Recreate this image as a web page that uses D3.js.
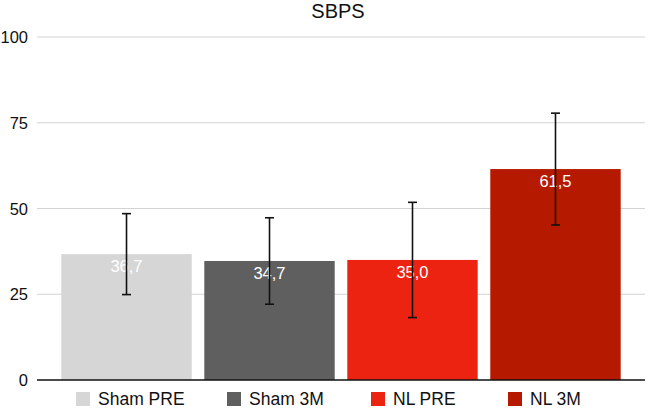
<!DOCTYPE html>
<html>
<head>
<meta charset="utf-8">
<script src="https://cdn.jsdelivr.net/npm/d3@7"></script>
<style>
  html, body { margin: 0; padding: 0; background: #fff; }
  svg { display: block; font-family: "Liberation Sans", Arial, Helvetica, sans-serif; }
</style>
</head>
<body>
<svg id="chart" width="650" height="408"></svg>
<script>
const title = "SBPS";
const categories = ["Sham PRE", "Sham 3M", "NL PRE", "NL 3M"];
const values = [36.7, 34.7, 35.0, 61.5];
const errors = [11.8, 12.6, 16.8, 16.3];
const valueLabels = ["36,7", "34,7", "35,0", "61,5"];
const colors = ["#d6d6d6", "#5f5f5f", "#ec2310", "#b51a00"];
const yTicks = [0, 25, 50, 75, 100];

(function () {
const svg = d3.select("#chart");
const mLeft = 37, mRight = 645, mTop = 37, mBottom = 380;

const x = d3.scaleBand().domain(categories).range([mLeft, mRight])
  .paddingInner(0.088).paddingOuter(0.17);
const y = d3.scaleLinear().domain([0, 100]).range([mBottom, mTop]);

// gridlines
svg.append("g").selectAll("line").data(yTicks.filter(t => t > 0)).join("line")
  .attr("x1", mLeft).attr("x2", mRight)
  .attr("y1", d => y(d)).attr("y2", d => y(d))
  .attr("stroke", "#d3d3d3").attr("stroke-width", 1.2);

// y tick labels
svg.append("g").selectAll("text").data(yTicks).join("text")
  .attr("x", 28).attr("y", d => y(d) + 6)
  .attr("text-anchor", "end").attr("font-size", 16.5).attr("fill", "#111")
  .text(d => d);

// bars
svg.append("g").selectAll("rect").data(values).join("rect")
  .attr("x", (d, i) => x(categories[i]))
  .attr("width", x.bandwidth())
  .attr("y", d => y(d))
  .attr("height", d => y(0) - y(d))
  .attr("fill", (d, i) => colors[i]);

// value labels
svg.append("g").selectAll("text").data(values).join("text")
  .attr("x", (d, i) => x(categories[i]) + x.bandwidth() / 2)
  .attr("y", d => y(d) + 18)
  .attr("text-anchor", "middle").attr("font-size", 16.5).attr("fill", "#fff")
  .text((d, i) => valueLabels[i]);

// error bars
const eg = svg.append("g").attr("stroke", "#111").attr("stroke-width", 1.6);
values.forEach((v, i) => {
  const cx = x(categories[i]) + x.bandwidth() / 2;
  const hi = y(v + errors[i]), lo = y(v - errors[i]);
  eg.append("line").attr("x1", cx).attr("x2", cx).attr("y1", hi).attr("y2", lo);
  eg.append("line").attr("x1", cx - 4.5).attr("x2", cx + 4.5).attr("y1", hi).attr("y2", hi);
  eg.append("line").attr("x1", cx - 4.5).attr("x2", cx + 4.5).attr("y1", lo).attr("y2", lo);
});

// x axis line
svg.append("line").attr("x1", mLeft).attr("x2", mRight)
  .attr("y1", y(0)).attr("y2", y(0))
  .attr("stroke", "#111").attr("stroke-width", 1.6);

// title
svg.append("text").attr("x", 338).attr("y", 17.5)
  .attr("text-anchor", "middle").attr("font-size", 20).attr("fill", "#111")
  .text(title);

// legend
const legendX = [76, 227, 371, 508];
const lg = svg.append("g");
categories.forEach((c, i) => {
  lg.append("rect").attr("x", legendX[i]).attr("y", 392).attr("width", 14).attr("height", 14)
    .attr("fill", colors[i]);
  lg.append("text").attr("x", legendX[i] + 22).attr("y", 404.5)
    .attr("font-size", 17.5).attr("fill", "#111").text(c);
});
})();
</script>
</body>
</html>
